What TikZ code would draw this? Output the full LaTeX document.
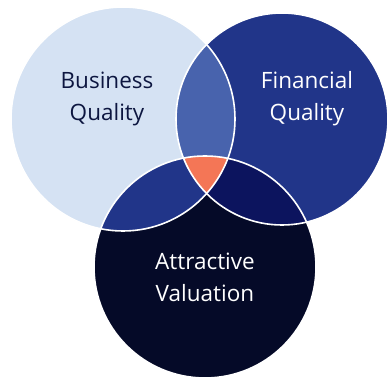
\documentclass[tikz,border=0pt]{standalone}
\usepackage{fontspec}
\setmainfont{Open Sans}
\definecolor{bizcol}{HTML}{D5E2F3}
\definecolor{fincol}{HTML}{213589}
\definecolor{valcol}{HTML}{050A28}
\definecolor{bfcol}{HTML}{4863AD}
\definecolor{bvcol}{HTML}{213589}
\definecolor{fvcol}{HTML}{0C145E}
\definecolor{midcol}{HTML}{F47656}
\definecolor{txtcol}{HTML}{0D1640}
\begin{document}
\begin{tikzpicture}[x=1pt,y=-1pt,
    label/.style={align=center,font=\fontsize{22.5}{32}\selectfont},
    sep/.style={draw=white,line width=1.6pt}]
  \useasboundingbox (0,0) rectangle (389,379);
  % centres of the three circles
  \coordinate (biz) at (123,119);
  \coordinate (fin) at (282,119);
  \coordinate (val) at (205,267);
  \def\bizpath{(biz) circle[radius=112pt]}
  \def\finpath{(fin) circle[radius=106pt]}
  \def\valpath{(val) circle[radius=111pt]}
  % circles
  \fill[bizcol] \bizpath;
  \fill[fincol] \finpath;
  \fill[valcol] \valpath;
  % overlaps
  \begin{scope}
    \clip \bizpath;
    \fill[bfcol] \finpath;
    \fill[bvcol] \valpath;
  \end{scope}
  \begin{scope}
    \clip \finpath;
    \fill[fvcol] \valpath;
  \end{scope}
  \begin{scope}
    \clip \bizpath;
    \clip \finpath;
    \fill[midcol] \valpath;
  \end{scope}
  % white borders
  \draw[sep] \bizpath;
  \draw[sep] \finpath;
  \draw[sep] \valpath;
  % labels
  \node[label,text=txtcol] (bizlab) at (107,99) {Business\\Quality};
  \node[label,text=white] (finlab) at (307,99) {Financial\\Quality};
  \node[label,text=white] (vallab) at (205,277) {Attractive\\Valuation};
\end{tikzpicture}
\end{document}
